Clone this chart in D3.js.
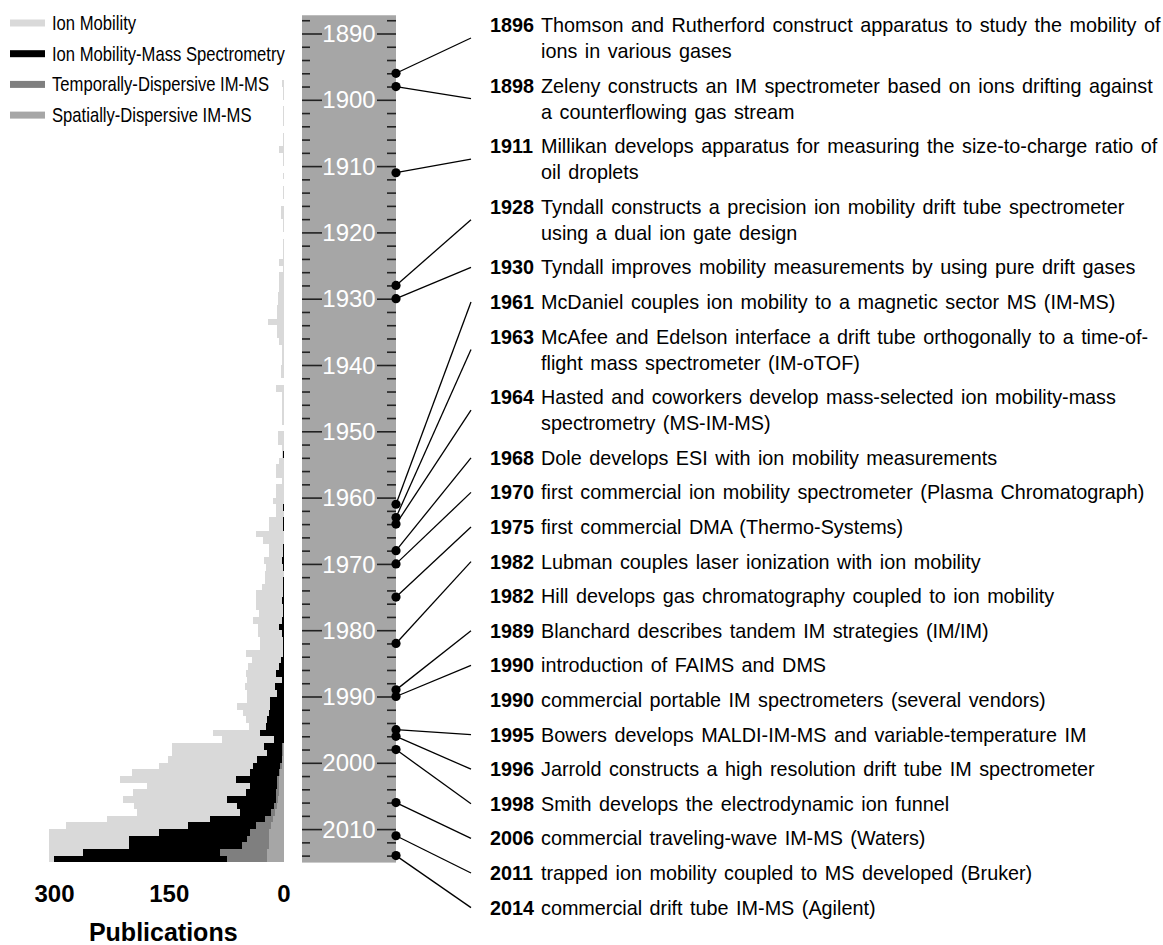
<!DOCTYPE html>
<html><head><meta charset="utf-8">
<script src="https://cdn.jsdelivr.net/npm/d3@7"></script>
<style>
html,body{margin:0;padding:0;background:#fff;}
svg{display:block;}
</style></head>
<body>
<svg id="chart" width="1163" height="945"></svg>
<script>
// ---------------- DATA ----------------
const firstYear = 1896;
// Publications per year, 1896..2014
const ionMobility = [
 0,2,1,1,0,1,1,1,0,1, 1,6,1,1,0,1,0,1,1,0,
 4,4,1,1,0,1,1,1,6,1, 6,6,6,8,8,9,9,21,9,9,
 6,2,2,2,4,4,0,10,2,2, 2,2,2,0,8,8,3,3,6,10,
 10,3,11,11,14,10,10,20,20,36, 27,19,19,26,23,25,25,29,37,37,
 37,33,40,34,34,32,32,50,42,47, 50,49,51,48,48,62,53,50,46,93,
 81,147,147,151,163,199,215,179,197,210, 196,192,231,285,307,307,307,307,307
];
const imMassSpec = [
 0,0,0,0,0,0,0,0,0,0, 0,0,0,0,0,0,0,0,0,0,
 0,0,0,0,0,0,0,0,0,0, 0,0,0,0,0,0,0,0,0,0,
 0,0,0,0,0,0,0,0,0,0, 0,0,0,0,0,0,0,1,0,0,
 0,0,0,0,0,1,0,1,1,0, 0,1,1,2,1,0,1,1,1,2,
 1,1,2,6,2,1,1,1,4,6, 11,2,12,9,18,18,20,22,24,31,
 13,26,22,35,41,44,63,44,50,74, 61,57,97,125,164,202,202,263,301
];
const spatialIMMS = [
 0,0,0,0,0,0,0,0,0,0, 0,0,0,0,0,0,0,0,0,0,
 0,0,0,0,0,0,0,0,0,0, 0,0,0,0,0,0,0,0,0,0,
 0,0,0,0,0,0,0,0,0,0, 0,0,0,0,0,0,0,0,0,0,
 0,0,0,0,0,0,0,0,0,0, 0,0,0,0,0,0,0,0,0,0,
 0,0,0,0,0,0,0,0,0,0, 0,0,0,0,0,0,0,0,0,0,
 0,1,1,2,3,5,6,6,7,8, 9,12,15,17,19,20,20,22,22
];
const temporalIMMS = [
 0,0,0,0,0,0,0,0,0,0, 0,0,0,0,0,0,0,0,0,0,
 0,0,0,0,0,0,0,0,0,0, 0,0,0,0,0,0,0,0,0,0,
 0,0,0,0,0,0,0,0,0,0, 0,0,0,0,0,0,0,0,0,0,
 0,0,0,0,0,0,0,0,0,0, 0,0,0,0,0,0,0,0,0,0,
 0,0,0,0,0,0,0,0,0,0, 0,0,0,0,0,0,0,0,0,0,
 0,1,2,1,2,2,3,3,3,3, 4,5,10,20,25,28,35,62,53
];
const seriesNames = ["Ion Mobility","Ion Mobility-Mass Spectrometry","Temporally-Dispersive IM-MS","Spatially-Dispersive IM-MS"];
const seriesColors = ["#d9d9d9","#000000","#7f7f7f","#a6a6a6"];
const pubTicks = [300,150,0];
const timelineMajor = [1890,1900,1910,1920,1930,1940,1950,1960,1970,1980,1990,2000,2010];
const eventYears = [1896,1898,1911,1928,1930,1961,1963,1964,1968,1970,1975,1982,1982,1989,1990,1990,1995,1996,1998,2006,2011,2014];
const eventLines = [
 ["Thomson and Rutherford construct apparatus to study the mobility of","ions in various gases"],
 ["Zeleny constructs an IM spectrometer based on ions drifting against","a counterflowing gas stream"],
 ["Millikan develops apparatus for measuring the size-to-charge ratio of","oil droplets"],
 ["Tyndall constructs a precision ion mobility drift tube spectrometer","using a dual ion gate design"],
 ["Tyndall improves mobility measurements by using pure drift gases"],
 ["McDaniel couples ion mobility to a magnetic sector MS (IM-MS)"],
 ["McAfee and Edelson interface a drift tube orthogonally to a time-of-","flight mass spectrometer (IM-oTOF)"],
 ["Hasted and coworkers develop mass-selected ion mobility-mass","spectrometry (MS-IM-MS)"],
 ["Dole develops ESI with ion mobility measurements"],
 ["first commercial ion mobility spectrometer (Plasma Chromatograph)"],
 ["first commercial DMA (Thermo-Systems)"],
 ["Lubman couples laser ionization with ion mobility"],
 ["Hill develops gas chromatography coupled to ion mobility"],
 ["Blanchard describes tandem IM strategies (IM/IM)"],
 ["introduction of FAIMS and DMS"],
 ["commercial portable IM spectrometers (several vendors)"],
 ["Bowers develops MALDI-IM-MS and variable-temperature IM"],
 ["Jarrold constructs a high resolution drift tube IM spectrometer"],
 ["Smith develops the electrodynamic ion funnel"],
 ["commercial traveling-wave IM-MS (Waters)"],
 ["trapped ion mobility coupled to MS developed (Bruker)"],
 ["commercial drift tube IM-MS (Agilent)"]
];

// ---------------- LAYOUT ----------------
const svg = d3.select("#chart");
const y = d3.scaleLinear().domain([1890, 2010]).range([33.5, 829.1]);
const x = d3.scaleLinear().domain([0, 300]).range([284, 54.5]);
const boxX0 = 302, boxX1 = 396;
const FONT = "'Liberation Sans', Arial, Helvetica, sans-serif";

const rows = ionMobility.map((v, i) => ({
  year: firstYear + i, im: v, imms: imMassSpec[i],
  sd: spatialIMMS[i], td: temporalIMMS[i]
}));

// ---------------- BARS ----------------
const barG = svg.append("g");
function bars(cls, color, x0f, x1f) {
  barG.selectAll("rect." + cls)
    .data(rows.filter(d => x1f(d) > x0f(d)))
    .join("rect").attr("class", cls)
    .attr("x", d => x(x1f(d)))
    .attr("width", d => x(x0f(d)) - x(x1f(d)))
    .attr("y", d => y(d.year))
    .attr("height", d => y(d.year + 1) - y(d.year))
    .attr("fill", color)
    .attr("shape-rendering", "crispEdges");
}
bars("im", seriesColors[0], d => 0, d => d.im);
bars("imms", seriesColors[1], d => 0, d => d.imms);
bars("td", seriesColors[2], d => d.sd, d => d.sd + d.td);
bars("sd", seriesColors[3], d => 0, d => d.sd);

// pub axis labels
svg.append("g").selectAll("text").data(pubTicks).join("text")
  .attr("x", d => x(d)).attr("y", 902)
  .attr("text-anchor", "middle")
  .attr("font-family", FONT).attr("font-weight", "bold").attr("font-size", 24)
  .attr("fill", "#000")
  .text(d => d);
svg.append("text").attr("x", x(150) - 6).attr("y", 941)
  .attr("text-anchor", "middle")
  .attr("font-family", FONT).attr("font-weight", "bold").attr("font-size", 25)
  .attr("fill", "#000")
  .text("Publications");

// ---------------- LEGEND ----------------
const leg = svg.append("g").selectAll("g").data(seriesNames).join("g")
  .attr("transform", (d, i) => `translate(10,${23 + i * 30.7})`);
leg.append("rect").attr("x", 0).attr("y", -3.5).attr("width", 35).attr("height", 7)
  .attr("fill", (d, i) => seriesColors[i]);
leg.append("text").attr("transform", "translate(42,0) scale(0.832,1)").attr("dy", "0.35em")
  .attr("font-family", FONT)
  .attr("font-size", 20).attr("fill", "#000")
  .text(d => d);

// ---------------- TIMELINE ----------------
const tl = svg.append("g");
tl.append("rect").attr("x", boxX0).attr("y", y(1887.25))
  .attr("width", boxX1 - boxX0).attr("height", y(2015.05) - y(1887.25))
  .attr("fill", "#a6a6a6");

const minorVals = d3.range(1888, 2015, 2).filter(v => v % 10 !== 0);
const axL = d3.axisRight(y).tickValues(minorVals).tickSize(8).tickFormat("");
const axR = d3.axisLeft(y).tickValues(minorVals).tickSize(9).tickFormat("");
const axLM = d3.axisRight(y).tickValues(timelineMajor).tickSize(20).tickFormat("");
const axRM = d3.axisLeft(y).tickValues(timelineMajor).tickSize(19).tickFormat("");
[[axL, boxX0], [axR, boxX1], [axLM, boxX0], [axRM, boxX1]].forEach(([ax, px]) => {
  const g = tl.append("g").attr("transform", `translate(${px},0)`).call(ax);
  g.select(".domain").remove();
  g.selectAll("line").attr("stroke", "#222").attr("stroke-width", 1.6);
});
tl.append("g").selectAll("text").data(timelineMajor).join("text")
  .attr("x", (boxX0 + boxX1) / 2).attr("y", d => y(d)).attr("dy", "0.36em")
  .attr("text-anchor", "middle").attr("fill", "#fff")
  .attr("font-family", FONT).attr("font-size", 24)
  .text(d => d);

// ---------------- EVENTS ----------------
const lineH = 26, entryGap = 8.6, textX = 490, bodyX = 541, connX = 471;
let cy = 25;
const events = eventYears.map((yr, i) => {
  const lines = eventLines[i];
  const ys = lines.map((l, k) => cy + k * lineH);
  const e = { year: yr, lines, ys, mid: d3.mean(ys), first: eventYears.indexOf(yr) === i };
  cy += lines.length * lineH + entryGap;
  return e;
});
const evG = svg.append("g");
evG.selectAll("line").data(events.filter(e => e.first)).join("line")
  .attr("x1", boxX1).attr("y1", e => y(e.year))
  .attr("x2", connX).attr("y2", e => e.mid)
  .attr("stroke", "#000").attr("stroke-width", 1.3);
evG.selectAll("circle").data(events.filter(e => e.first)).join("circle")
  .attr("cx", boxX1).attr("cy", e => y(e.year)).attr("r", 4.6).attr("fill", "#000");
const eg = evG.selectAll("g.ev").data(events).join("g").attr("class", "ev");
eg.append("text").attr("x", textX).attr("y", e => e.ys[0]).attr("dy", "0.35em")
  .attr("font-family", FONT).attr("font-weight", "bold").attr("font-size", 19.8)
  .attr("fill", "#000").text(e => e.year);
eg.each(function (e) {
  d3.select(this).selectAll("text.body").data(e.lines).join("text").attr("class", "body")
    .attr("x", bodyX).attr("y", (l, k) => e.ys[k]).attr("dy", "0.35em")
    .attr("font-family", FONT).attr("font-size", 19.8).attr("word-spacing", 2)
    .attr("fill", "#000").text(l => l);
});
</script>
</body></html>
